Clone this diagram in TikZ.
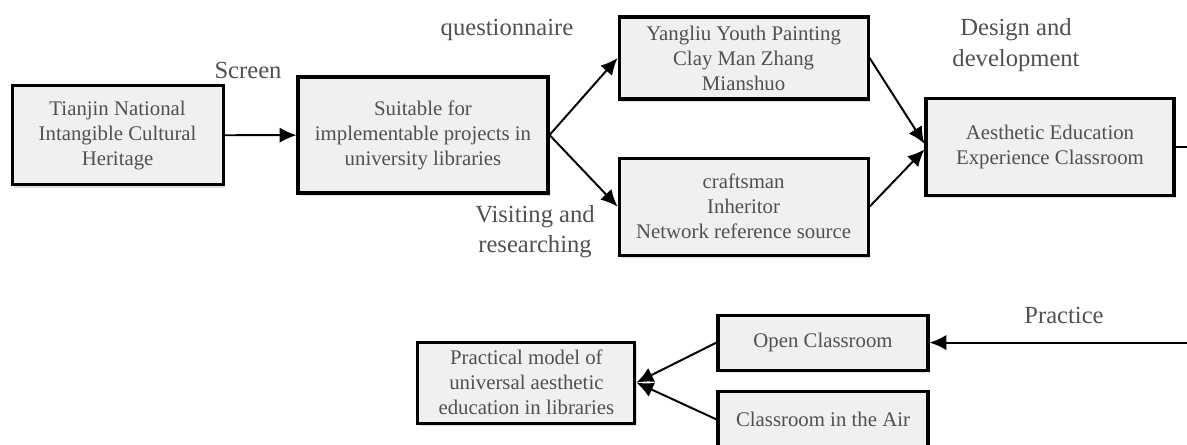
\documentclass[tikz,border=0pt]{standalone}
\usepackage{fontspec}
\setmainfont{Liberation Serif}
\usepackage{xcolor}
\usetikzlibrary{arrows.meta, positioning, shadows}
\definecolor{boxfill}{HTML}{F0F0F0}
\definecolor{inkgray}{HTML}{505050}
\tikzstyle{box} = [draw, line width=2.2pt, fill=boxfill, text=inkgray, align=center, inner sep=0pt, font=\fontsize{14.8}{17.8}\selectfont, drop shadow={shadow xshift=1.5pt, shadow yshift=-2pt, opacity=0.25}]
\tikzstyle{lbl} = [text=inkgray, align=center, font=\fontsize{17.5}{21.5}\selectfont]
\tikzstyle{arrow} = [line width=1.4pt, -{Latex[length=12pt, width=11pt]}]

\begin{document}
\begin{tikzpicture}

\useasboundingbox (0, 0) rectangle (29.675, 11.125);
\clip (0, 0) rectangle (29.675, 11.125);

% first row
\node [box, minimum width=5.275cm, minimum height=2.475cm] (herit) at (2.94, 7.74) {Tianjin National\\Intangible Cultural\\Heritage};
\node [box, minimum width=6.25cm, minimum height=2.9cm] (suit) at (10.575, 7.75) {Suitable for\\implementable projects in\\university libraries};
\node [box, minimum width=6.225cm, minimum height=2.05cm] (yang) at (18.59, 9.675) {Yangliu Youth Painting\\Clay Man Zhang\\Mianshuo};
\node [box, minimum width=6.225cm, minimum height=2.425cm] (craft) at (18.59, 5.96) {craftsman\\Inheritor\\Network reference source};
\node [box, minimum width=6.2cm, minimum height=2.425cm] (aes) at (26.25, 7.46) {Aesthetic Education\\Experience Classroom};

% second row
\node [box, minimum width=5.25cm, minimum height=1.375cm] (open) at (20.575, 2.56) {Open Classroom};
\node [box, minimum width=5.25cm, minimum height=1.375cm] (air) at (20.575, 0.64) {Classroom in the Air};
\node [box, minimum width=5.425cm, minimum height=2.025cm] (model) at (13.16, 1.56) {Practical model of\\universal aesthetic\\education in libraries};

% labels
\node [lbl] (screen) at (6.2, 9.375) {Screen};
\node [lbl] (quest) at (12.675, 10.375) {questionnaire};
\node [lbl] (visit) at (13.375, 5.325) {Visiting and\\researching};
\node [lbl] (design) at (25.4, 10.0) {Design and\\development};
\node [lbl] (pract) at (26.6, 3.25) {Practice};

% connectors
\draw [arrow] (herit) -- (suit);
\draw [arrow] (suit.east) -- (yang.west);
\draw [arrow] (suit.east) -- (craft.west);
\draw [arrow] (yang.east) -- ([yshift=2pt]aes.west);
\draw [arrow] (craft.east) -- ([yshift=-2pt]aes.west);
\draw [arrow] (aes.east) -- ++(1.5, 0) |- (open.east);
\draw [arrow] (open.west) -- (model.east);
\draw [arrow] (air.west) -- (model.east);

\end{tikzpicture}
\end{document}
